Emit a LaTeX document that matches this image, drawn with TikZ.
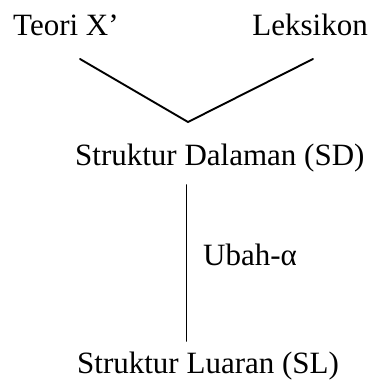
\documentclass[tikz,border=0pt]{standalone}
\usepackage{fontspec}
\setmainfont{Liberation Serif}
\begin{document}
\begin{tikzpicture}[x=1pt,y=-1pt,
  lbl/.style={inner sep=0pt,font=\fontsize{31}{31}\selectfont},
  link/.style={line width=1.9pt,line cap=round}]
\useasboundingbox (0,0) rectangle (374,381);
\node[lbl,anchor=base west] (teori) at (13,35) {Teori X’};
\node[lbl,anchor=base east] (leks) at (368,35) {Leksikon};
\node[lbl,anchor=base west] (sd) at (75,165) {Struktur Dalaman (SD)};
\node[lbl,anchor=base west] (ubah) at (203,265) {Ubah-α};
\node[lbl,anchor=base west] (sl) at (77,373) {Struktur Luaran (SL)};
% free ends of the joining lines
\coordinate (tl) at (80,59);
\coordinate (lr) at (313,59);
\coordinate (v) at (188,122);
\coordinate (top) at (186.5,185);
\coordinate (bot) at (186.5,341);
\draw[link] (tl) -- (v) -- (lr);
\draw[link] (top) -- (bot);
\end{tikzpicture}
\end{document}
